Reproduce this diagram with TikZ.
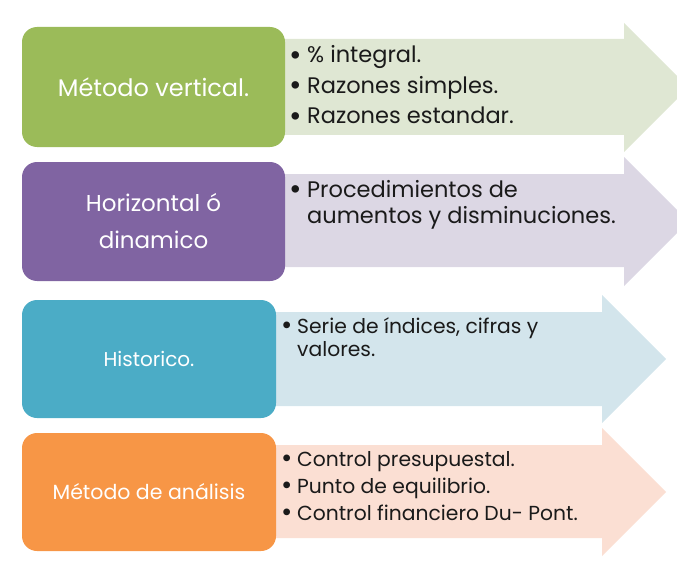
\documentclass[tikz,border=0pt]{standalone}
\usepackage{fontspec}
\setmainfont{Poppins}
\definecolor{cgreen}{HTML}{9BBB59}
\definecolor{cgreenlt}{HTML}{DFE7D3}
\definecolor{cpurple}{HTML}{8064A2}
\definecolor{cpurplelt}{HTML}{DCD7E4}
\definecolor{cteal}{HTML}{4BACC6}
\definecolor{ctealt}{HTML}{D3E5EC}
\definecolor{corange}{HTML}{F79646}
\definecolor{corangelt}{HTML}{FBDFD3}
\definecolor{ctext}{HTML}{1A1A1A}
\newcommand{\mybul}[1]{\raisebox{-0.09em}{\scalebox{1.35}{•}}}
\tikzset{
  catbox/.style={rounded corners=15pt, inner sep=0pt, text=white, align=center, draw=none},
  itemtext/.style={anchor=base west, inner sep=0pt, text=ctext},
  bul/.style={anchor=base west, inner sep=0pt, text=ctext}
}
\begin{document}
\begin{tikzpicture}[x=1pt,y=-1pt]
\useasboundingbox (0,0) rectangle (677,567);
\clip (0,0) rectangle (677,567);
% arrows
\fill[cgreenlt] (284,39) -- (624,39) -- (624,23) -- (688.5,87.5) -- (624,152) -- (624,135) -- (284,135) -- cycle;
\fill[cpurplelt] (284,174) -- (624,174) -- (624,157) -- (688.5,221.5) -- (624,286) -- (624,267) -- (284,267) -- cycle;
\fill[ctealt] (275,312) -- (602,312) -- (602,295) -- (666,359) -- (602,423) -- (602,406) -- (275,406) -- cycle;
\fill[corangelt] (275,445) -- (602,445) -- (602,428) -- (666,492) -- (602,556) -- (602,538) -- (275,538) -- cycle;
% boxes
\node[catbox, fill=cgreen, minimum width=263pt, minimum height=120pt, font=\fontsize{24}{28}\selectfont] (b1) at (153.5,87) {Método vertical.};
\node[catbox, fill=cpurple, minimum width=263pt, minimum height=119pt, font=\fontsize{23}{37}\selectfont] (b2) at (153.5,221.5) {Horizontal ó\\dinamico};
\node[catbox, fill=cteal, minimum width=254pt, minimum height=118pt, font=\fontsize{20}{24}\selectfont] (b3) at (149,359) {Historico.};
\node[catbox, fill=corange, minimum width=254pt, minimum height=118pt, font=\fontsize{20.5}{24}\selectfont] (b4) at (149,492) {Método de análisis};
% row 1 and 2 items
\begin{scope}[every node/.append style={font=\fontsize{22.5}{27}\selectfont}]
\node[bul] (p1a) at (289,63) {\mybul{}};
\node[itemtext] (t1a) at (307,63) {\% integral.};
\node[bul] (p1b) at (289,93.5) {\mybul{}};
\node[itemtext] (t1b) at (307,93.5) {Razones simples.};
\node[bul] (p1c) at (289,124) {\mybul{}};
\node[itemtext] (t1c) at (307,124) {Razones estandar.};
\node[bul] (p2a) at (289,197) {\mybul{}};
\node[itemtext] (t2a) at (307,197) {Procedimientos de};
\node[itemtext] (t2b) at (307,223) {aumentos y disminuciones.};
\end{scope}
\begin{scope}[every node/.append style={font=\fontsize{20.3}{24}\selectfont}]
\node[bul] (p3a) at (281,333) {\mybul{}};
\node[itemtext] (t3a) at (297,333) {Serie de índices, cifras y};
\node[itemtext] (t3b) at (297,356) {valores.};
\node[bul] (p4a) at (281,466) {\mybul{}};
\node[itemtext] (t4a) at (297,466) {Control presupuestal.};
\node[bul] (p4b) at (281,493) {\mybul{}};
\node[itemtext] (t4b) at (297,493) {Punto de equilibrio.};
\node[bul] (p4c) at (281,520) {\mybul{}};
\node[itemtext] (t4c) at (297,520) {Control financiero Du- Pont.};
\end{scope}
\end{tikzpicture}
\end{document}
